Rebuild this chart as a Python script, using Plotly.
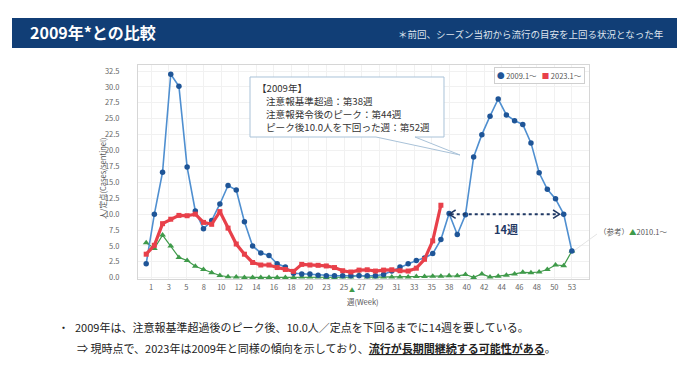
import plotly.graph_objects as go

# ---------------- data ----------------
weeks = list(range(1, 54))
tick_labels = ["1", "3", "5", "8", "10", "12", "14", "16", "18", "20", "23", "25", "27",
               "29", "31", "33", "35", "38", "40", "42", "44", "46", "48", "50", "53"]

cases_2009 = [2.2, 10.0, 16.6, 32.0, 30.1, 17.4, 10.5, 7.7, 9.0, 11.6,
              14.5, 13.8, 8.8, 5.0, 3.9, 3.5, 2.2, 1.7, 0.7, 0.6,
              0.6, 0.4, 0.3, 0.3, 0.3, 0.3, 0.3, 0.3, 0.3, 0.5,
              1.05, 1.7, 2.2, 2.7, 3.1, 3.8, 6.0, 10.1, 6.8, 9.9,
              19.0, 22.5, 25.4, 28.1, 25.6, 24.7, 24.1, 21.2, 16.5, 13.9,
              12.4, 10.0, 4.2]

cases_2023 = [3.7, 5.1, 8.5, 9.2, 9.8, 9.75, 10.0, 8.7, 8.4, 10.4,
              7.8, 5.3, 3.7, 2.4, 2.0, 2.0, 1.6, 1.3, 1.0, 2.1,
              2.0, 1.95, 1.85, 1.6, 1.1, 0.9, 1.2, 1.25, 1.05, 1.2,
              1.25, 1.1, 1.05, 1.5, 2.9, 5.8, 11.4]

cases_2010 = [5.5, 4.6, 6.7, 5.0, 3.2, 2.7, 1.8, 1.3, 0.8, 0.35,
              0.15, 0.1, 0.05, 0.05, 0.05, 0.05, 0.05, 0.05, 0.05, 0.1,
              0.1, 0.1, 0.05, 0.05, 0.1, 0.1, 0.45, 0.1, 0.1, 0.1,
              0.1, 0.1, 0.1, 0.2, 0.2, 0.25, 0.25, 0.3, 0.3, 0.5,
              0.05, 0.6, 0.1, 0.25, 0.4, 0.6, 0.85, 0.8, 0.9, 1.3,
              2.0, 1.9, 4.2]

alert_week = 38       # 注意報基準超過
peak_week = 44        # ピーク
below_week = 52       # 10.0人を下回った週
threshold = 10.0

FONT = "Noto Sans CJK JP"

# ---------------- layout geometry ----------------
Wfig, Hfig = 680, 383
L, R, T, B = 138, 589, 65, 279


def px(x):
    return (x - L) / (R - L)


def py(y):
    return (B - y) / (B - T)


fig = go.Figure()

fig.add_trace(go.Scatter(
    x=weeks[:len(cases_2010)], y=cases_2010, mode="lines+markers",
    line=dict(color="#3f9a4a", width=1.2),
    marker=dict(symbol="triangle-up", size=6, color="#3f9a4a"),
    name="2010.1～", showlegend=False))

fig.add_trace(go.Scatter(
    x=weeks[:len(cases_2009)], y=cases_2009, mode="lines+markers",
    line=dict(color="#4f8fd0", width=1.6),
    marker=dict(symbol="circle", size=5.5, color="#1f5597"),
    name="2009.1～", showlegend=False))

fig.add_trace(go.Scatter(
    x=weeks[:len(cases_2023)], y=cases_2023, mode="lines+markers",
    line=dict(color="#e8404a", width=3.2),
    marker=dict(symbol="square", size=5, color="#e8404a"),
    name="2023.1～", showlegend=False))

# tick positions evenly spread (date-like axis)
n = len(tick_labels)
first_pos, last_pos = 1.61, 53.0
tickvals = [first_pos + i * (last_pos - first_pos) / (n - 1) for i in range(n)]

fig.update_xaxes(
    range=[0.0, 55.09], tickmode="array", tickvals=tickvals, ticktext=tick_labels,
    showgrid=True, gridcolor="#f1f1f1", gridwidth=1,
    showline=True, linecolor="#d6d6d6", linewidth=1, mirror=True,
    zeroline=False, ticks="", ticklabelstandoff=1,
    tickfont=dict(family=FONT, size=7.5, color="#666666"))

fig.update_yaxes(
    range=[-0.2, 33.45], tickmode="array",
    tickvals=[i * 2.5 for i in range(14)],
    ticktext=[f"{i * 2.5:.1f}" for i in range(14)],
    showgrid=True, gridcolor="#f1f1f1", gridwidth=1,
    showline=True, linecolor="#d6d6d6", linewidth=1, mirror=True,
    zeroline=False, ticks="", ticklabelstandoff=16,
    tickfont=dict(family=FONT, size=7.5, color="#666666"))

shapes = []
annotations = []

# title bar
shapes.append(dict(type="rect", xref="paper", yref="paper",
                   x0=px(12), x1=px(677), y0=py(48), y1=py(18),
                   fillcolor="#113e76", line=dict(width=0), layer="below"))
annotations.append(dict(xref="paper", yref="paper", x=px(28), y=py(32),
                        text="<b>2009年*との比較</b>", showarrow=False,
                        xanchor="left", yanchor="middle",
                        font=dict(family=FONT, size=16, color="white")))
annotations.append(dict(xref="paper", yref="paper", x=px(666), y=py(34),
                        text="＊前回、シーズン当初から流行の目安を上回る状況となった年",
                        showarrow=False, xanchor="right", yanchor="middle",
                        font=dict(family=FONT, size=9.5, color="#dfe5ee")))

# callout box
pts = [(250, 77), (444, 77), (444, 137), (415, 137), (460, 155), (376, 137), (250, 137)]
path = "M " + " L ".join(f"{px(a):.5f},{py(b):.5f}" for a, b in pts) + " Z"
shapes.append(dict(type="path", xref="paper", yref="paper", path=path,
                   fillcolor="white", line=dict(color="#a9c2d8", width=1)))
callout_lines = ["【2009年】",
                 f"注意報基準超過：第{alert_week}週",
                 f"注意報発令後のピーク：第{peak_week}週",
                 f"ピーク後{threshold:.1f}人を下回った週：第{below_week}週"]
for i, t in enumerate(callout_lines):
    annotations.append(dict(xref="paper", yref="paper",
                            x=px(255 if i == 0 else 264), y=py(88 + 13 * i),
                            text=t, showarrow=False, xanchor="left", yanchor="middle",
                            font=dict(family=FONT, size=9.6, color="#333333")))

# 14-week arrow (dotted) at threshold level
arrow_col = "#1f3864"
x0a, x1a = alert_week, below_week - 0.5
shapes.append(dict(type="line", xref="x", yref="y", x0=x0a + 0.2, x1=x1a - 0.2,
                   y0=threshold, y1=threshold,
                   line=dict(color=arrow_col, width=2, dash="dot")))
for xa, d in [(x0a, 1), (x1a, -1)]:
    shapes.append(dict(type="path", xref="x", yref="y",
                       path=f"M {xa + d * 0.8},{threshold + 0.65} L {xa},{threshold} L {xa + d * 0.8},{threshold - 0.65}",
                       line=dict(color=arrow_col, width=1.5)))
annotations.append(dict(xref="x", yref="y", x=(alert_week + below_week) / 2, y=threshold - 2.4,
                        text=f"<b>{below_week - alert_week}週</b>", showarrow=False,
                        font=dict(family=FONT, size=11, color=arrow_col)))

# pseudo-legend
annotations.append(dict(xref="paper", yref="paper", x=px(539), y=py(75),
                        text="<span style='color:#1f5597'>●</span> 2009.1～   "
                             "<span style='color:#e8404a'>■</span> 2023.1～",
                        showarrow=False, xanchor="center", yanchor="middle",
                        bordercolor="#cfcfcf", borderwidth=1, borderpad=2, bgcolor="white",
                        font=dict(family=FONT, size=7.5, color="#555555")))

# reference series label
shapes.append(dict(type="line", xref="paper", yref="paper",
                   x0=px(575), y0=py(250), x1=px(597), y1=py(234),
                   line=dict(color="#dddddd", width=0.8)))
annotations.append(dict(xref="paper", yref="paper", x=px(597), y=py(231),
                        text="（参考）<span style='color:#3f9a4a'>▲</span>2010.1～",
                        showarrow=False, xanchor="left", yanchor="middle",
                        font=dict(family=FONT, size=7.5, color="#555555")))
annotations.append(dict(xref="paper", yref="paper", x=px(352), y=py(289),
                        text="<span style='color:#3f9a4a'>▲</span>", showarrow=False,
                        xanchor="center", yanchor="middle",
                        font=dict(family=FONT, size=6, color="#3f9a4a")))

# axis titles
annotations.append(dict(xref="paper", yref="paper", x=px(102), y=py(178),
                        text="人/定点(Cases/sentinel)", textangle=-90, showarrow=False,
                        xanchor="center", yanchor="middle",
                        font=dict(family=FONT, size=7.5, color="#555555")))
annotations.append(dict(xref="paper", yref="paper", x=px(363), y=py(301),
                        text="週(Week)", showarrow=False,
                        xanchor="center", yanchor="middle",
                        font=dict(family=FONT, size=7.5, color="#555555")))

# bottom commentary
annotations.append(dict(xref="paper", yref="paper", x=px(63), y=py(327),
                        text="・", showarrow=False, xanchor="center", yanchor="middle",
                        font=dict(family=FONT, size=11, color="#222222")))
annotations.append(dict(xref="paper", yref="paper", x=px(73), y=py(327),
                        text=f"2009年は、注意報基準超過後のピーク後、{threshold:.1f}人／定点を下回るまでに"
                             f"{below_week - alert_week}週を要している。",
                        showarrow=False, xanchor="left", yanchor="middle",
                        font=dict(family=FONT, size=11, color="#222222")))
annotations.append(dict(xref="paper", yref="paper", x=px(75), y=py(348),
                        text="⇒ 現時点で、2023年は2009年と同様の傾向を示しており、"
                             "<b><span style='text-decoration:underline'>流行が長期間継続する可能性がある</span></b>。",
                        showarrow=False, xanchor="left", yanchor="middle",
                        font=dict(family=FONT, size=11, color="#222222")))

fig.update_layout(
    width=Wfig, height=Hfig,
    margin=dict(l=L, r=Wfig - R, t=T, b=Hfig - B, autoexpand=False),
    paper_bgcolor="white", plot_bgcolor="white",
    font=dict(family=FONT),
    shapes=shapes, annotations=annotations, showlegend=False)

fig.write_html("out.html", config={"displayModeBar": False},
               post_script="document.body.style.margin='0';document.body.style.padding='0';")
